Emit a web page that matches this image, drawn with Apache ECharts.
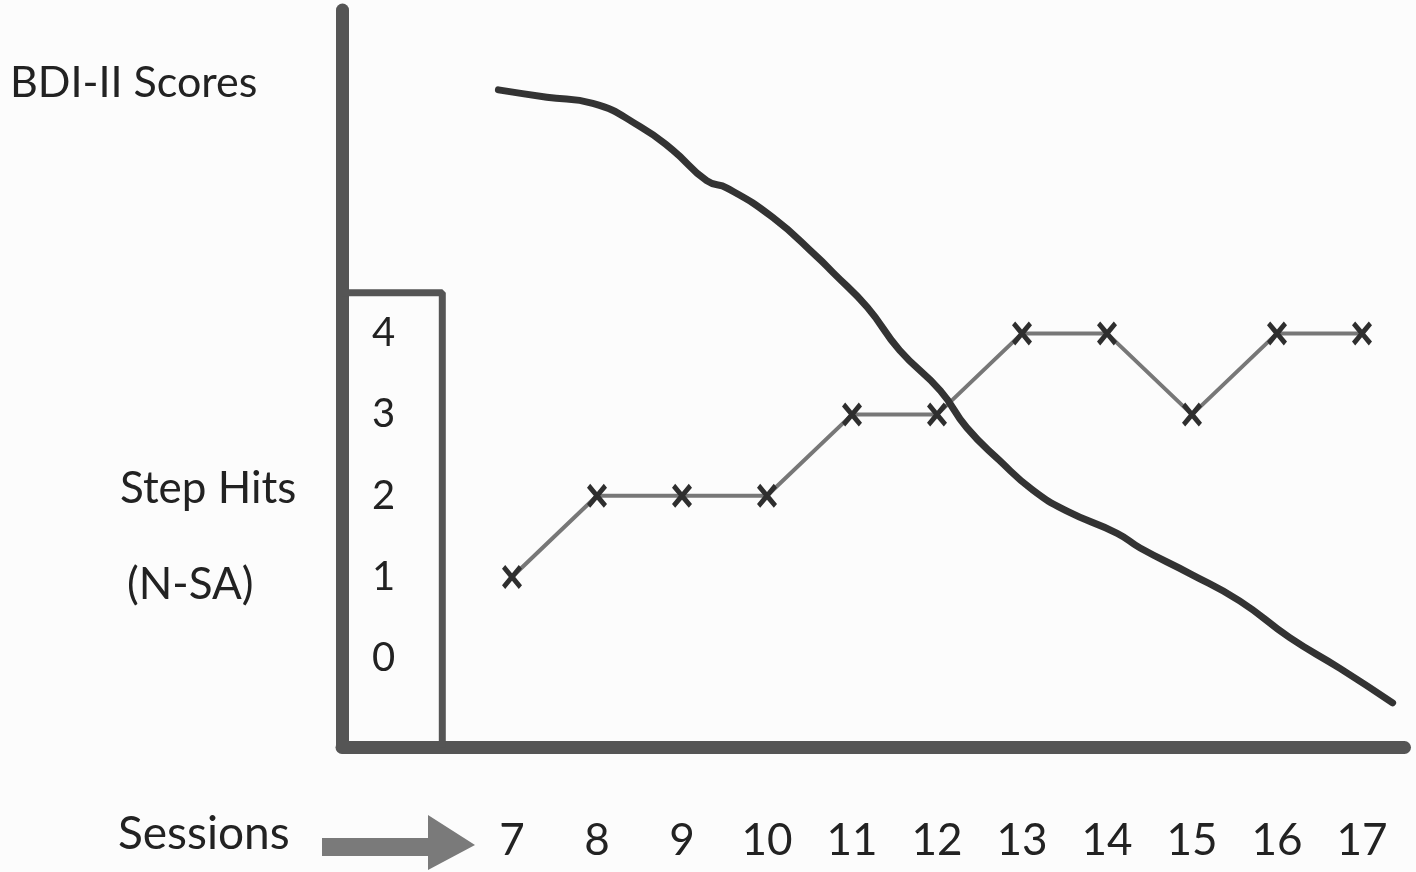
<!DOCTYPE html>
<html>
<head>
<meta charset="utf-8">
<script src="https://cdn.jsdelivr.net/npm/echarts@6/dist/echarts.min.js"></script>
<style>
  html, body { margin: 0; padding: 0; background: #fcfcfc; }
  #chart { width: 1416px; height: 872px; }
</style>
</head>
<body>
<div id="chart"></div>
<script>
// sessions on the x axis
const sessions = [7, 8, 9, 10, 11, 12, 13, 14, 15, 16, 17]
// step hits (N-SA) per session
const stepHits = [1, 2, 2, 2, 3, 3, 4, 4, 3, 4, 4]
const stepTicks = [0, 1, 2, 3, 4]

// BDI-II curve (no printed scale)
const bdiSessions = [6.84, 7.41, 7.95, 8.51, 8.89, 9.29, 9.53, 10.07, 10.59, 10.78, 11.18, 11.56, 12.04, 12.35, 12.74, 13.13, 13.53, 14.12, 14.39, 14.98, 15.56, 16.15, 16.74, 17.36]
const bdiScores = [53.5, 52.9, 52.4, 50.5, 48.6, 46.1, 45.5, 43.1, 39.9, 38.6, 35.8, 32.3, 29.0, 26.0, 23.3, 20.9, 19.2, 17.4, 16.2, 14.1, 11.9, 8.9, 6.4, 3.6]

// frame round the step-hit scale (session units, step-hit units)
const boxSessions = [5, 6.18, 6.18]
const boxHits = [4.5, 4.5, -1.1]

const FONT = 'Lato'
const AXIS = '#555'
const chart = echarts.init(document.getElementById('chart'))

const cross = 'path://M0,1.6 L1.6,0 L5,3.4 L8.4,0 L10,1.6 L6.6,5 L10,8.4 L8.4,10 L5,6.6 L1.6,10 L0,8.4 L3.4,5 Z'

chart.setOption({
  animation: false,
  backgroundColor: '#fcfcfc',
  grid: { left: 342, right: 11.5, top: 10, bottom: 125 },
  xAxis: {
    type: 'value', min: 5, max: 17.5,
    axisLine: { onZero: false, lineStyle: { color: AXIS, width: 13 } },
    axisTick: { show: false },
    splitLine: { show: false },
    axisLabel: {
      customValues: sessions, margin: 72,
      fontFamily: FONT, fontSize: 44, color: '#222'
    }
  },
  yAxis: [
    {
      type: 'value', min: -1.094, max: 7.983,
      axisLine: { show: true, onZero: false, lineStyle: { color: AXIS, width: 13 } },
      axisTick: { show: false },
      splitLine: { show: false },
      axisLabel: {
        customValues: stepTicks, inside: true, margin: 30,
        fontFamily: FONT, fontSize: 40, color: '#222'
      }
    },
    { type: 'value', min: 0, max: 60, show: false }
  ],
  series: [
    {
      type: 'line', data: boxSessions.map((s, i) => [s, boxHits[i]]),
      showSymbol: false, silent: true,
      lineStyle: { color: AXIS, width: 7 }
    },
    {
      name: 'Step Hits', type: 'line',
      data: sessions.map((s, i) => [s, stepHits[i]]),
      symbol: cross, symbolSize: [20, 24],
      itemStyle: { color: '#2e2e2e' },
      lineStyle: { color: '#777', width: 4 }
    },
    {
      name: 'BDI-II Scores', type: 'line', yAxisIndex: 1,
      data: bdiSessions.map((s, i) => [s, bdiScores[i]]),
      smooth: true, showSymbol: false,
      lineStyle: { color: '#333', width: 7, cap: 'round' }
    }
  ],
  graphic: [
    { type: 'text', left: 10, top: 62, style: { text: 'BDI-II Scores', font: `43px ${FONT}`, fill: '#222' } },
    { type: 'text', left: 120, top: 467, style: { text: 'Step Hits', font: `44px ${FONT}`, fill: '#222' } },
    { type: 'text', left: 127, top: 563, style: { text: '(N-SA)', font: `44px ${FONT}`, fill: '#222' } },
    { type: 'text', left: 118, top: 811, style: { text: 'Sessions', font: `46px ${FONT}`, fill: '#222' } },
    {
      type: 'polygon',
      shape: { points: [[322, 838], [428, 838], [428, 815], [475, 845], [428, 870], [428, 856], [322, 856]] },
      style: { fill: '#7a7a7a' }
    }
  ]
})
</script>
</body>
</html>
